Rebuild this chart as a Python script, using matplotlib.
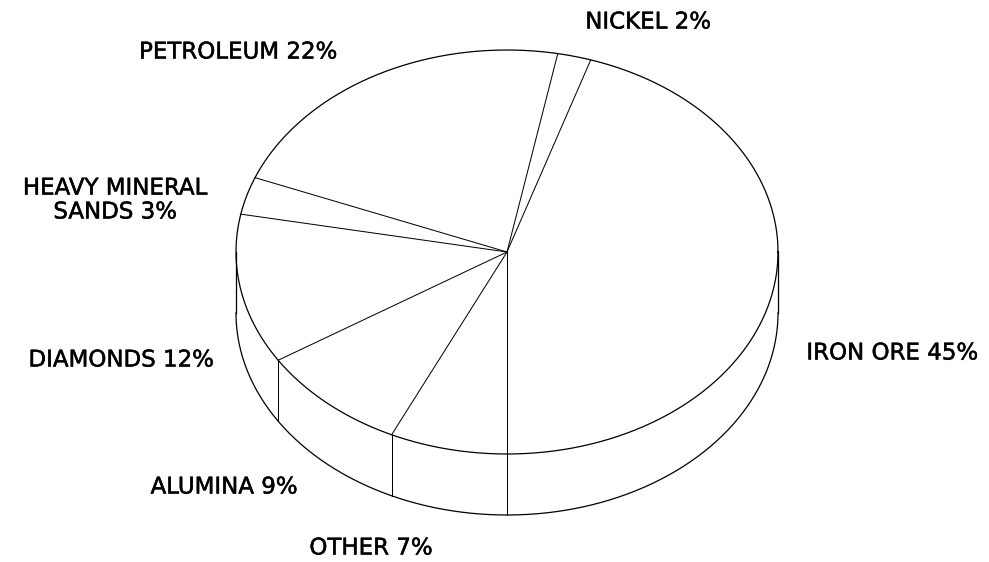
import matplotlib
matplotlib.use("Agg")
import matplotlib.pyplot as plt
import matplotlib.patheffects as pe
import numpy as np

# slice data, counter-clockwise from the front (bottom) of the pie
labels = ["IRON ORE 45%", "NICKEL 2%", "PETROLEUM 22%", "HEAVY MINERAL\nSANDS 3%",
          "DIAMONDS 12%", "ALUMINA 9%", "OTHER 7%"]
shares = [45, 2, 22, 3, 12, 9, 7]
label_pos = [(892, 353), (648, 22), (238, 52), (115, 200),
             (121, 360), (224, 487), (371, 548)]

# pie geometry in pixels
CX, CY = 507, 252
RX, RY = 271, 202
DEPTH = 61
START = 270.0

LW = 0.9
COL = "black"


def top_xy(deg):
    t = np.radians(deg)
    return CX + RX * np.cos(t), CY - RY * np.sin(t)


fig = plt.figure(figsize=(9.89, 5.62), dpi=100)
ax = fig.add_axes([0, 0, 1, 1])
ax.set_xlim(0, 989)
ax.set_ylim(562, 0)
ax.axis("off")

# top ellipse
t = np.linspace(0, 360, 721)
x, y = top_xy(t)
ax.plot(x, y, color=COL, lw=LW)

# visible side wall (front half)
t = np.linspace(180, 360, 361)
x, y = top_xy(t)
ax.plot(x, y + DEPTH, color=COL, lw=LW)
for deg in (180, 360):
    bx, by = top_xy(deg)
    ax.plot([bx, bx], [by, by + DEPTH], color=COL, lw=LW)

# slice boundaries
bounds = START + np.cumsum([0] + shares) * 3.6
for b in bounds[:-1]:
    bx, by = top_xy(b)
    ax.plot([CX, bx], [CY, by], color=COL, lw=LW * 0.8)
    if np.sin(np.radians(b)) < -1e-6:
        ax.plot([bx, bx], [by, by + DEPTH], color=COL, lw=LW * 0.8)

for lab, (lx, ly) in zip(labels, label_pos):
    ax.text(lx, ly, lab, ha="center", va="center", fontsize=16.5,
            family="DejaVu Sans", linespacing=1.05, color="black",
            path_effects=[pe.withStroke(linewidth=0.35, foreground="black")])

fig.savefig("out.png", dpi=100, facecolor="white")
